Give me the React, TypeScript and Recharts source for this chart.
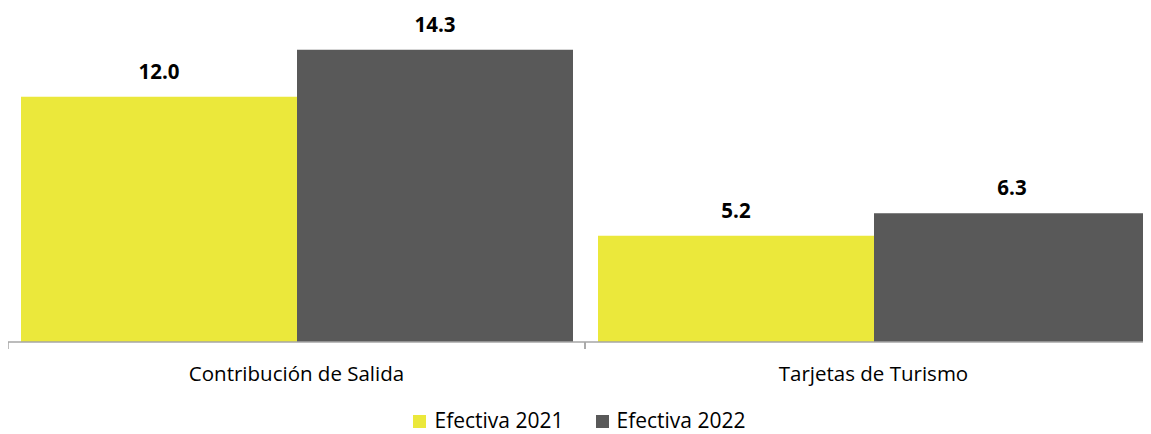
import React from "react";
import { BarChart, Bar, XAxis, YAxis, Legend, LabelList } from "recharts";

const categories = ["Contribución de Salida", "Tarjetas de Turismo"];
const efectiva2021 = [12.0, 5.2];
const efectiva2022 = [14.3, 6.3];
const seriesNames = ["Efectiva 2021", "Efectiva 2022"];
const seriesColors = ["#EBE83B", "#595959"];

const data = categories.map((c, i) => ({
  name: c,
  s2021: efectiva2021[i],
  s2022: efectiva2022[i],
}));

const FONT = "'Open Sans', 'Liberation Sans', sans-serif";
const CHART_W = 1154;
const VISIBLE_W = 1143;
const BAND = CHART_W / categories.length;
const LEGEND_H = 18;

const Tick = (props: any) => {
  const { x, y, payload } = props;
  return (
    <g>
      <line x1={x - BAND / 2} y1={y - 8} x2={x - BAND / 2} y2={y - 1} stroke="#a6a6a6" strokeWidth={1.5} />
      <line x1={x + BAND / 2} y1={y - 8} x2={x + BAND / 2} y2={y - 1} stroke="#a6a6a6" strokeWidth={1.5} />
      <text x={x} y={y + 31} textAnchor="middle" fontFamily={FONT} fontSize={20.5} fill="#000">
        {payload.value}
      </text>
    </g>
  );
};

const LegendContent = (props: any) => {
  const { payload } = props;
  return (
    <div
      style={{
        display: "flex",
        justifyContent: "center",
        alignItems: "center",
        gap: 32,
        height: LEGEND_H,
        fontFamily: FONT,
        fontSize: 21,
        lineHeight: `${LEGEND_H}px`,
        color: "#000",
      }}
    >
      {(payload || []).map((p: any) => (
        <div key={p.value} style={{ display: "flex", alignItems: "center" }}>
          <div style={{ width: 13, height: 13, background: p.color, marginRight: 8, marginTop: 3 }} />
          <div style={{ lineHeight: `${LEGEND_H}px`, height: LEGEND_H, whiteSpace: "nowrap" }}>{p.value}</div>
        </div>
      ))}
    </div>
  );
};

export default function App() {
  return (
    <div style={{ width: VISIBLE_W, height: 426, overflow: "hidden" }}>
      <style>{`html{overflow:hidden}`}</style>
      <BarChart
        width={CHART_W}
        height={426}
        data={data}
        margin={{ top: 7, right: 0, left: 0, bottom: 0 }}
        barCategoryGap={13}
        barGap={0}
      >
        <XAxis
          dataKey="name"
          axisLine={{ stroke: "#a6a6a6", strokeWidth: 1.5 }}
          tickLine={false}
          tick={<Tick />}
          height={92 - LEGEND_H}
          interval={0}
        />
        <YAxis hide domain={[0, 16]} />
        <Legend
          content={<LegendContent />}
          wrapperStyle={{ top: 403, left: 0, width: VISIBLE_W, bottom: "auto" }}
        />
        <Bar dataKey="s2021" name={seriesNames[0]} fill={seriesColors[0]} isAnimationActive={false}>
          <LabelList dataKey="s2021" position="top" offset={18} formatter={(v: number) => v.toFixed(1)} style={{ fontFamily: FONT, fontSize: 20.5, fontWeight: 700, fill: "#000" }} />
        </Bar>
        <Bar dataKey="s2022" name={seriesNames[1]} fill={seriesColors[1]} isAnimationActive={false}>
          <LabelList dataKey="s2022" position="top" offset={18} formatter={(v: number) => v.toFixed(1)} style={{ fontFamily: FONT, fontSize: 20.5, fontWeight: 700, fill: "#000" }} />
        </Bar>
      </BarChart>
    </div>
  );
}
